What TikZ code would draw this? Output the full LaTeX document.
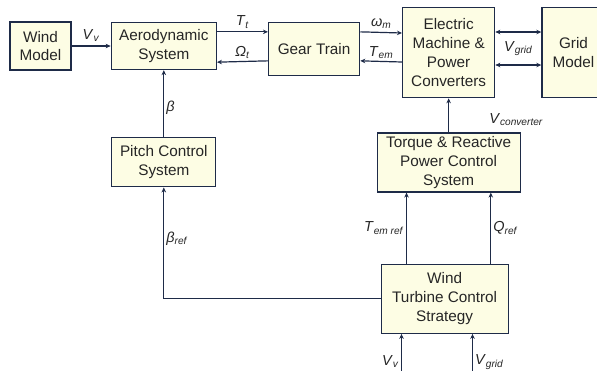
\documentclass[tikz,border=0pt]{standalone}
\usepackage{fontspec}
\setmainfont{Liberation Sans}
\usepackage{tikz}
\usetikzlibrary{arrows.meta,positioning,calc}
\usepackage{xcolor}
\definecolor{boxfill}{HTML}{FDFDE4}
\definecolor{edgec}{HTML}{1E2B48}
\definecolor{textc}{HTML}{262626}
\newcommand{\sig}[2]{\textit{#1}\textsubscript{\textit{#2}}}

\begin{document}
\begin{tikzpicture}[
  x=1pt, y=1pt,
  block/.style={draw=edgec, fill=boxfill, line width=1.3pt, inner sep=0pt,
    align=center, text=textc, font=\fontsize{15.3}{18.8}\selectfont},
  arr/.style={-{Stealth[length=5pt,width=4.5pt]}, line width=1.2pt, draw=edgec},
  dblarr/.style={{Stealth[length=5pt,width=4.5pt]}-{Stealth[length=5pt,width=4.5pt]},
    line width=1.2pt, draw=edgec},
  lbl/.style={text=textc, font=\fontsize{14.5}{16}\selectfont, inner sep=2pt}
]
  \useasboundingbox (0,0) rectangle (597,-370);

  \node[block, minimum width=61pt, minimum height=48pt] (wind) at (40.5,-46) {Wind\\Model};
  \node[block, minimum width=105pt, minimum height=47pt, right=39pt of wind] (aero) {Aerodynamic\\System};
  \node[block, minimum width=91pt, minimum height=53pt, anchor=north west] (gear)
    at ([xshift=51pt]aero.north east) {Gear Train};
  \node[block, minimum width=92pt, minimum height=90pt, anchor=north west] (em)
    at (402,-7) {Electric\\Machine \&\\Power\\Converters};
  \node[block, minimum width=63pt, minimum height=90pt, right=46pt of em, text width=56pt] (grid) {Grid\\Model};

  \node[block, minimum width=104pt, minimum height=49pt, below=67pt of aero] (pitch) {Pitch Control\\System};
  \node[block, minimum width=143pt, minimum height=59pt, below=34pt of em] (torque)
    {Torque \& Reactive\\Power Control\\System};
  \node[block, minimum width=127pt, minimum height=69pt, below=71pt of torque, xshift=-4pt] (wtcs)
    {Wind\\Turbine Control\\Strategy};

  \draw[arr] (wind) -- node[above, lbl, yshift=2pt] {\sig{V}{v}} (aero);
  \draw[arr] ([yshift=-10pt]aero.north east) -- node[above, lbl, yshift=1pt] {\sig{T}{t}} ([yshift=-10pt]gear.north west);
  \draw[arr] ([yshift=-39pt]gear.north west) -- node[above, lbl] {\sig{Ω}{t}} ([yshift=8pt]aero.south east);
  \draw[arr] ([yshift=-10pt]gear.north east) -- node[above, lbl, yshift=1pt] {\textit{ω}\textsubscript{\textit{m}}} ([yshift=-26pt]em.north west);
  \draw[arr] ([yshift=-55pt]em.north west) -- node[above, lbl] {\sig{T}{em}} ([yshift=-39pt]gear.north east);
  \draw[dblarr] ([yshift=-25pt]em.north east) -- ([yshift=-25pt]grid.north west);
  \draw[dblarr] ([yshift=-58pt]em.north east) -- ([yshift=-58pt]grid.north west);
  \path (em.east) -- node[lbl, yshift=4pt] {\sig{V}{grid}} (grid.west);

  \draw[arr] (torque.north) -- node[pos=0.38, right=38pt, lbl] {\sig{V}{converter}} (torque.north |- em.south);
  \draw[arr] (pitch) -- node[right, lbl, yshift=-4pt] {\textit{β}} (aero);
  \draw[arr] (wtcs.west) -| node[pos=0.77, right, lbl] {\sig{β}{ref}} (pitch.south);

  \coordinate (temin) at ([xshift=26pt]wtcs.north west);
  \coordinate (qin) at ([xshift=-18pt]wtcs.north east);
  \draw[arr] (temin) -- node[left, lbl] {\sig{T}{em ref}} (temin |- torque.south);
  \draw[arr] (qin) -- node[right, lbl] {\sig{Q}{ref}} (qin |- torque.south);

  \coordinate (vin) at ([xshift=21pt,yshift=-40pt]wtcs.south west);
  \coordinate (gin) at ([xshift=92pt,yshift=-40pt]wtcs.south west);
  \draw[arr] (vin) -- node[pos=0.3, left, lbl] {\sig{V}{v}} (vin |- wtcs.south);
  \draw[arr] (gin) -- node[pos=0.3, right, lbl] {\sig{V}{grid}} (gin |- wtcs.south);
\end{tikzpicture}
\end{document}
